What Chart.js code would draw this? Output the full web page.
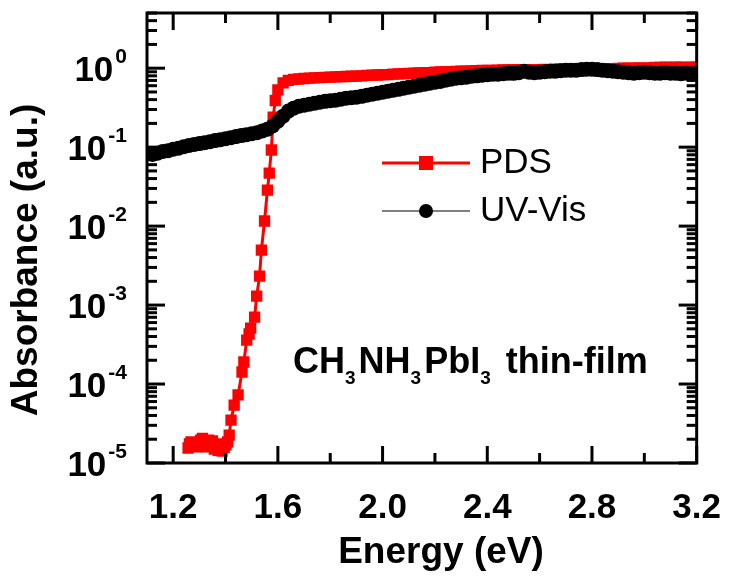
<!DOCTYPE html>
<html>
<head>
<meta charset="utf-8">
<script src="https://cdn.jsdelivr.net/npm/chart.js@4.4.1/dist/chart.umd.min.js"></script>
<style>
  html, body { margin: 0; padding: 0; background: #fff; }
</style>
</head>
<body>
<canvas id="chart" width="737" height="580"></canvas>
<script>
// ---------- DATA ----------
const pdsEnergy = [
  1.257, 1.262, 1.268, 1.275, 1.282, 1.290, 1.297, 1.305, 1.312, 1.320,
  1.327, 1.335, 1.342, 1.350, 1.357, 1.365, 1.372, 1.380, 1.387, 1.395,
  1.402, 1.408, 1.414, 1.421, 1.433, 1.448,
  1.463, 1.470, 1.481, 1.490, 1.496, 1.511, 1.519, 1.530, 1.537, 1.549,
  1.560, 1.567, 1.575, 1.582, 1.590, 1.600,
  1.62, 1.64, 1.66, 1.68, 1.70, 1.72, 1.74, 1.76, 1.78, 1.80,
  1.82, 1.84, 1.86, 1.88, 1.90, 1.92, 1.94, 1.96, 1.98, 2.00,
  2.02, 2.04, 2.06, 2.08, 2.10, 2.12, 2.14, 2.16, 2.18, 2.20,
  2.22, 2.24, 2.26, 2.28, 2.30, 2.32, 2.34, 2.36, 2.38, 2.40,
  2.42, 2.44, 2.46, 2.48, 2.50, 2.52, 2.54, 2.56, 2.58, 2.60,
  2.62, 2.64, 2.66, 2.68, 2.70, 2.72, 2.74, 2.76, 2.78, 2.80,
  2.82, 2.84, 2.86, 2.88, 2.90, 2.92, 2.94, 2.96, 2.98, 3.00,
  3.02, 3.04, 3.06, 3.08, 3.10, 3.12, 3.14, 3.16, 3.18, 3.20
];
const pdsAbs = [
  1.55e-5, 1.75e-5, 1.85e-5, 1.65e-5, 1.80e-5, 1.60e-5, 1.70e-5, 1.95e-5, 2.05e-5, 1.80e-5,
  1.60e-5, 1.95e-5, 1.70e-5, 1.90e-5, 1.50e-5, 1.75e-5, 1.45e-5, 1.52e-5, 1.42e-5, 1.58e-5,
  1.70e-5, 1.85e-5, 2.26e-5, 3.5e-5, 5.4e-5, 7.3e-5,
  1.42e-4, 1.9e-4, 3.6e-4, 4.3e-4, 5.1e-4, 7.05e-4, 1.30e-3, 2.33e-3, 4.97e-3, 1.16e-2,
  2.86e-2, 4.7e-2, 9.2e-2, 0.24, 0.39, 0.53,
  0.65, 0.70, 0.72, 0.73, 0.74, 0.75, 0.755, 0.76, 0.765, 0.77,
  0.775, 0.78, 0.785, 0.79, 0.795, 0.80, 0.81, 0.815, 0.82, 0.83,
  0.83, 0.84, 0.845, 0.85, 0.86, 0.865, 0.87, 0.875, 0.88, 0.89,
  0.895, 0.90, 0.905, 0.91, 0.915, 0.92, 0.925, 0.93, 0.935, 0.94,
  0.94, 0.945, 0.95, 0.95, 0.955, 0.955, 0.96, 0.955, 0.96, 0.96,
  0.965, 0.96, 0.97, 0.97, 0.975, 0.97, 0.975, 0.98, 0.98, 0.985,
  0.98, 0.985, 0.99, 0.99, 0.995, 1.0, 1.0, 1.0, 1.01, 1.0,
  1.01, 1.02, 1.02, 1.03, 1.02, 1.03, 1.03, 1.02, 1.03, 1.03
];

const uvEnergy = [
  1.10, 1.12, 1.14, 1.16, 1.18, 1.20, 1.22, 1.24, 1.26, 1.28,
  1.30, 1.32, 1.34, 1.36, 1.38, 1.40, 1.42, 1.44, 1.46, 1.48,
  1.50, 1.52, 1.54, 1.56, 1.58, 1.60, 1.62, 1.64, 1.66, 1.68,
  1.70, 1.72, 1.74, 1.76, 1.78, 1.80, 1.82, 1.84, 1.86, 1.88,
  1.90, 1.92, 1.94, 1.96, 1.98, 2.00, 2.02, 2.04, 2.06, 2.08,
  2.10, 2.12, 2.14, 2.16, 2.18, 2.20, 2.22, 2.24, 2.26, 2.28,
  2.30, 2.32, 2.34, 2.36, 2.38, 2.40, 2.42, 2.44, 2.46, 2.48,
  2.50, 2.52, 2.54, 2.56, 2.58, 2.60, 2.62, 2.64, 2.66, 2.68,
  2.70, 2.72, 2.74, 2.76, 2.78, 2.80, 2.82, 2.84, 2.86, 2.88,
  2.90, 2.92, 2.94, 2.96, 2.98, 3.00, 3.02, 3.04, 3.06, 3.08,
  3.10, 3.12, 3.14, 3.16, 3.18, 3.20
];
const uvAbs = [
  0.082, 0.081, 0.084, 0.088, 0.090, 0.094, 0.097, 0.101, 0.105, 0.108,
  0.111, 0.114, 0.117, 0.121, 0.124, 0.128, 0.132, 0.136, 0.140, 0.144,
  0.148, 0.152, 0.160, 0.169, 0.185, 0.213, 0.247, 0.286, 0.312, 0.330,
  0.340, 0.350, 0.361, 0.370, 0.380, 0.388, 0.394, 0.405, 0.417, 0.422,
  0.429, 0.440, 0.455, 0.469, 0.482, 0.497, 0.510, 0.527, 0.540, 0.559,
  0.575, 0.592, 0.610, 0.627, 0.645, 0.665, 0.680, 0.705, 0.725, 0.746,
  0.757, 0.770, 0.790, 0.800, 0.815, 0.827, 0.840, 0.840, 0.850, 0.864,
  0.860, 0.877, 0.917, 0.890, 0.877, 0.890, 0.900, 0.917, 0.917, 0.930,
  0.944, 0.944, 0.944, 0.960, 0.972, 0.970, 0.960, 0.944, 0.930, 0.917,
  0.900, 0.890, 0.877, 0.864, 0.877, 0.890, 0.877, 0.864, 0.864, 0.877,
  0.864, 0.864, 0.850, 0.864, 0.850, 0.864
];

const xTicks = [1.2, 1.6, 2.0, 2.4, 2.8, 3.2];
const xMinor = [1.4, 1.8, 2.2, 2.6, 3.0];
const yExponents = [-5, -4, -3, -2, -1, 0];
const yMinorMult = [2, 3, 4, 5, 6, 7, 8, 9];

const FONT = '"Liberation Sans", Arial, sans-serif';

// ---------- HELPERS ----------
const pts = (xs, ys) => xs.map((e, i) => ({ x: e, y: ys[i] }));

function line(ctx, x1, y1, x2, y2) {
  ctx.beginPath();
  ctx.moveTo(x1, y1);
  ctx.lineTo(x2, y2);
  ctx.stroke();
}

// frame, inward ticks, y labels, titles, legend, sample label
const decor = {
  id: "decor",
  afterDraw(chart) {
    const { ctx, chartArea: a, scales: { x, y } } = chart;
    ctx.save();
    ctx.strokeStyle = "#000";
    ctx.fillStyle = "#000";
    ctx.lineWidth = 3;

    xTicks.forEach(v => {
      const px = x.getPixelForValue(v);
      line(ctx, px, a.bottom, px, a.bottom - 17);
      line(ctx, px, a.top, px, a.top + 17);
    });
    xMinor.forEach(v => {
      const px = x.getPixelForValue(v);
      line(ctx, px, a.bottom, px, a.bottom - 10);
      line(ctx, px, a.top, px, a.top + 10);
    });
    yExponents.forEach(n => {
      const py = y.getPixelForValue(Math.pow(10, n));
      line(ctx, a.left, py, a.left + 18, py);
      line(ctx, a.right, py, a.right - 18, py);
      yMinorMult.forEach(m => {
        const v = m * Math.pow(10, n);
        if (v > y.max) return;
        const pm = y.getPixelForValue(v);
        line(ctx, a.left, pm, a.left + 10, pm);
        line(ctx, a.right, pm, a.right - 10, pm);
      });
    });
    ctx.strokeRect(a.left, a.top, a.right - a.left, a.bottom - a.top);

    // y tick labels 10^n
    yExponents.forEach(n => {
      const py = y.getPixelForValue(Math.pow(10, n));
      const sup = String(n);
      ctx.font = "bold 21px " + FONT;
      const sw = ctx.measureText(sup).width;
      ctx.font = "bold 35px " + FONT;
      const bw = ctx.measureText("10").width;
      const right = a.left - 20;
      ctx.textAlign = "left";
      ctx.textBaseline = "alphabetic";
      ctx.fillText("10", right - sw - 2 - bw, py + 13);
      ctx.font = "bold 21px " + FONT;
      ctx.fillText(sup, right - sw, py - 5);
    });

    // axis titles
    ctx.font = "bold 37px " + FONT;
    ctx.textAlign = "center";
    ctx.textBaseline = "middle";
    ctx.fillText("Energy (eV)", 441, 553);
    ctx.save();
    ctx.translate(27, 260);
    ctx.rotate(-Math.PI / 2);
    ctx.fillText("Absorbance (a.u.)", 0, 0);
    ctx.restore();

    // legend
    const ds = chart.data.datasets;
    const rows = [
      { d: ds[0], y: 163, lw: 3 },
      { d: ds[1], y: 211, lw: 1 }
    ];
    rows.forEach(r => {
      ctx.strokeStyle = r.d.borderColor;
      ctx.fillStyle = r.d.pointBackgroundColor;
      ctx.lineWidth = r.lw;
      line(ctx, 382, r.y, 470, r.y);
      if (r.d.pointStyle === "rect") {
        ctx.fillRect(419, r.y - 7, 14, 14);
      } else {
        ctx.beginPath();
        ctx.arc(426, r.y, 7, 0, Math.PI * 2);
        ctx.fill();
      }
      ctx.fillStyle = "#000";
      ctx.font = "35px " + FONT;
      ctx.textAlign = "left";
      ctx.textBaseline = "middle";
      ctx.fillText(r.d.label, 480, r.y);
    });

    // sample label with subscripts
    const parts = [["CH", 0], ["3", 1], ["NH", 0], ["3", 1], ["PbI", 0], ["3", 1], ["thin-film", 2]];
    let tx = 293;
    const base = 373;
    ctx.textAlign = "left";
    ctx.textBaseline = "alphabetic";
    parts.forEach(([t, kind]) => {
      if (kind === 2) tx += 12;
      ctx.font = (kind === 1 ? "bold 19px " : "bold 36px ") + FONT;
      ctx.fillText(t, tx, kind === 1 ? base + 11 : base);
      tx += ctx.measureText(t).width + (kind === 1 ? 3 : 0);
    });
    ctx.restore();
  }
};

// ---------- CHART ----------
new Chart(document.getElementById("chart"), {
  type: "line",
  data: {
    datasets: [
      {
        label: "PDS",
        data: pts(pdsEnergy, pdsAbs),
        borderColor: "#ff0000",
        borderWidth: 3,
        pointStyle: "rect",
        pointRadius: 8,
        pointBorderWidth: 0,
        pointBackgroundColor: "#ff0000",
        order: 1
      },
      {
        label: "UV-Vis",
        data: pts(uvEnergy, uvAbs),
        borderColor: "#000000",
        borderWidth: 1,
        pointStyle: "circle",
        pointRadius: 7.5,
        pointBorderWidth: 0,
        pointBackgroundColor: "#000000",
        order: 0
      }
    ]
  },
  options: {
    responsive: false,
    animation: false,
    layout: { padding: { top: 13, right: 29, left: 0, bottom: 0 } },
    plugins: { legend: { display: false }, tooltip: { enabled: false } },
    scales: {
      x: {
        type: "linear",
        min: 1.1,
        max: 3.2,
        grid: { display: false },
        border: { display: false },
        afterBuildTicks: s => { s.ticks = xTicks.map(v => ({ value: v })); },
        afterFit: s => { s.height = 117; },
        ticks: {
          color: "#000",
          padding: 16,
          maxRotation: 0,
          font: { family: FONT, size: 35, weight: "bold" },
          callback: v => v.toFixed(1)
        }
      },
      y: {
        type: "logarithmic",
        min: 1e-5,
        max: 5,
        grid: { display: false },
        border: { display: false },
        ticks: { display: false },
        afterFit: s => { s.width = 147; }
      }
    }
  },
  plugins: [decor]
});
</script>
</body>
</html>
